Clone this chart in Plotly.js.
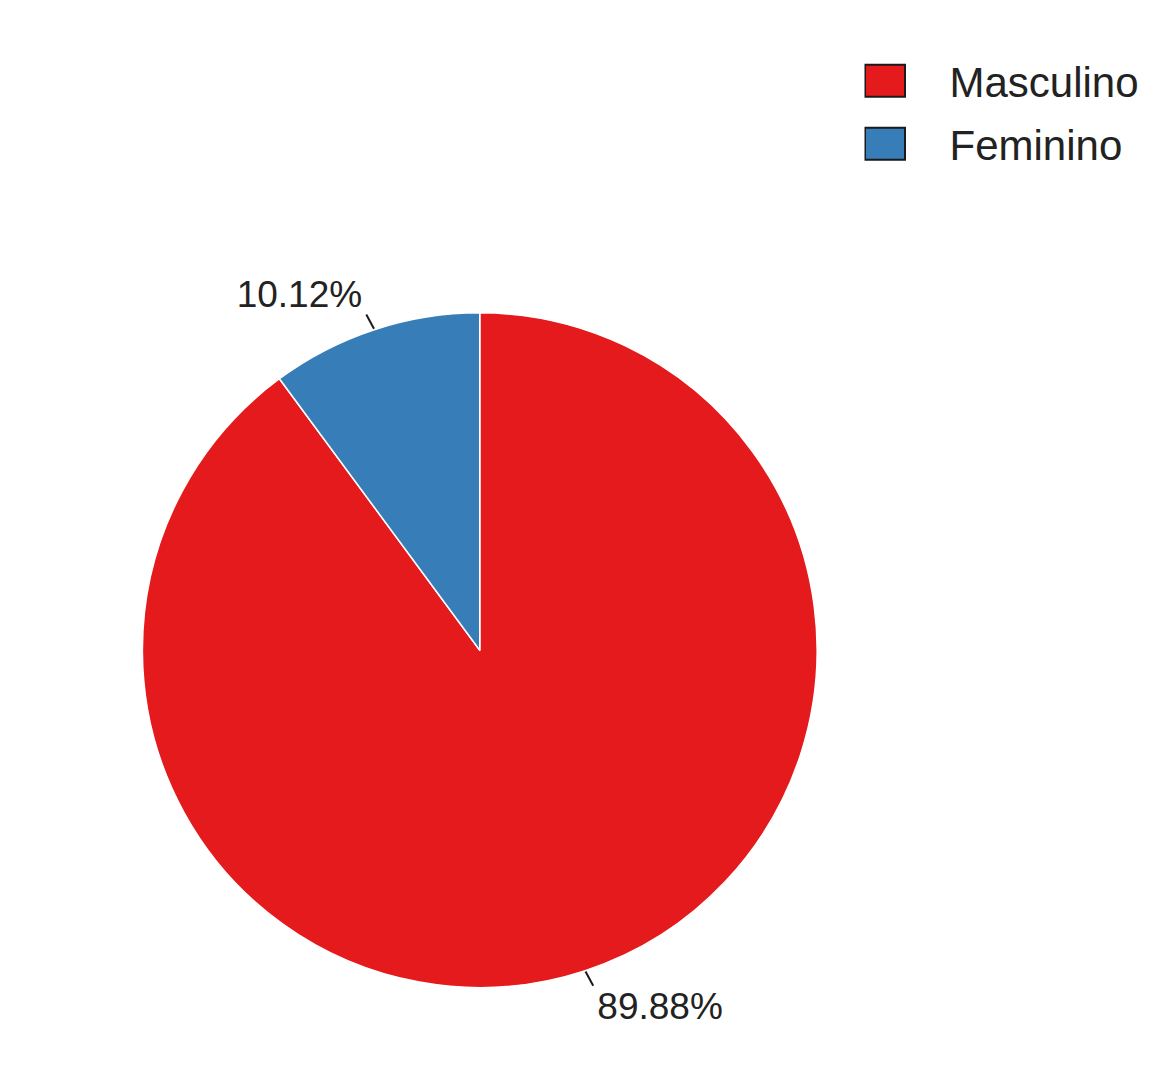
<!DOCTYPE html>
<html>
<head>
<meta charset="utf-8">
<script src="https://cdn.plot.ly/plotly-3.0.1.min.js"></script>
<style>
  html, body { margin: 0; padding: 0; background: #ffffff; }
  #graph { width: 1173px; height: 1090px; }
</style>
</head>
<body>
<div id="graph"></div>
<script>
let labels = ["Masculino", "Feminino"];
let values = [89.88, 10.12];
let colors = ["#E41A1C", "#377EB8"];

// R-style tweaks Plotly has no option for: bigger boxed legend keys,
// wider legend rows, labels pushed out with a short leader line
function tweak(gd) {
    let svgns = "http://www.w3.org/2000/svg";

    document.querySelectorAll(".legend .legendpoints path").forEach(p => {
        p.setAttribute("d", "M-2,16H-42V-16H-2Z");
        p.style.stroke = "#1a1a1a";
        p.style.strokeWidth = "2px";
    });
    document.querySelectorAll(".legend .legendtext").forEach(t => {
        t.setAttribute("x", 85);
    });
    let items = document.querySelectorAll(".legend .traces");
    let y0 = null;
    items.forEach((g, i) => {
        let m = /translate\(([-\d.]+),\s*([-\d.]+)\)/.exec(g.getAttribute("transform"));
        if (!m) return;
        if (y0 === null) y0 = parseFloat(m[2]);
        g.setAttribute("transform", "translate(" + m[1] + "," + (y0 + i * 63) + ")");
    });

    let cd = gd.calcdata[0];
    let cx = cd[0].cx, cy = cd[0].cy, r = cd[0].r;
    let layer = document.querySelector(".pielayer .trace");
    let texts = document.querySelectorAll(".pielayer .slice");
    texts.forEach((s, i) => {
        let pt = cd[i];
        let ux = pt.pxmid[0] / r, uy = pt.pxmid[1] / r;
        let t = s.querySelector("text.slicetext");
        if (t) {
            let old = t.getAttribute("transform") || "";
            t.setAttribute("transform", "translate(" + (ux * 6) + "," + (uy * 18) + ") " + old);
        }
        let line = document.createElementNS(svgns, "path");
        let x1 = cx + ux * (r + 1), y1 = cy + uy * (r + 1);
        let x2 = cx + ux * (r + 16) + 3 * Math.sign(ux), y2 = cy + uy * (r + 16);
        line.setAttribute("d", "M" + x1 + "," + y1 + "L" + x2 + "," + y2);
        line.style.stroke = "#1a1a1a";
        line.style.strokeWidth = "2px";
        line.style.fill = "none";
        layer.appendChild(line);
    });
}

function plot() {
    let pie = {
        type: "pie",
        labels: labels,
        values: values,
        sort: false,
        direction: "clockwise",
        rotation: 0,
        marker: {
            colors: colors,
            line: { color: "#ffffff", width: 1.5 }
        },
        texttemplate: "%{percent:.2%}",
        textposition: "outside",
        textfont: { family: "Liberation Sans, Arial, sans-serif", size: 37, color: "#222222" },
        hoverinfo: "label+percent",
        domain: { x: [0.121, 0.697], y: [0.094, 0.713] }
    };

    let layout = {
        width: 1173,
        height: 1090,
        margin: { l: 0, r: 0, t: 0, b: 0 },
        paper_bgcolor: "#ffffff",
        showlegend: true,
        legend: {
            x: 0.737,
            y: 0.957,
            xanchor: "left",
            yanchor: "top",
            itemwidth: 75,
            font: { family: "Liberation Sans, Arial, sans-serif", size: 42, color: "#222222" },
            bgcolor: "rgba(0,0,0,0)"
        }
    };

    Plotly.newPlot("graph", [pie], layout, { displayModeBar: false }).then(tweak);
}

plot();
</script>
</body>
</html>
